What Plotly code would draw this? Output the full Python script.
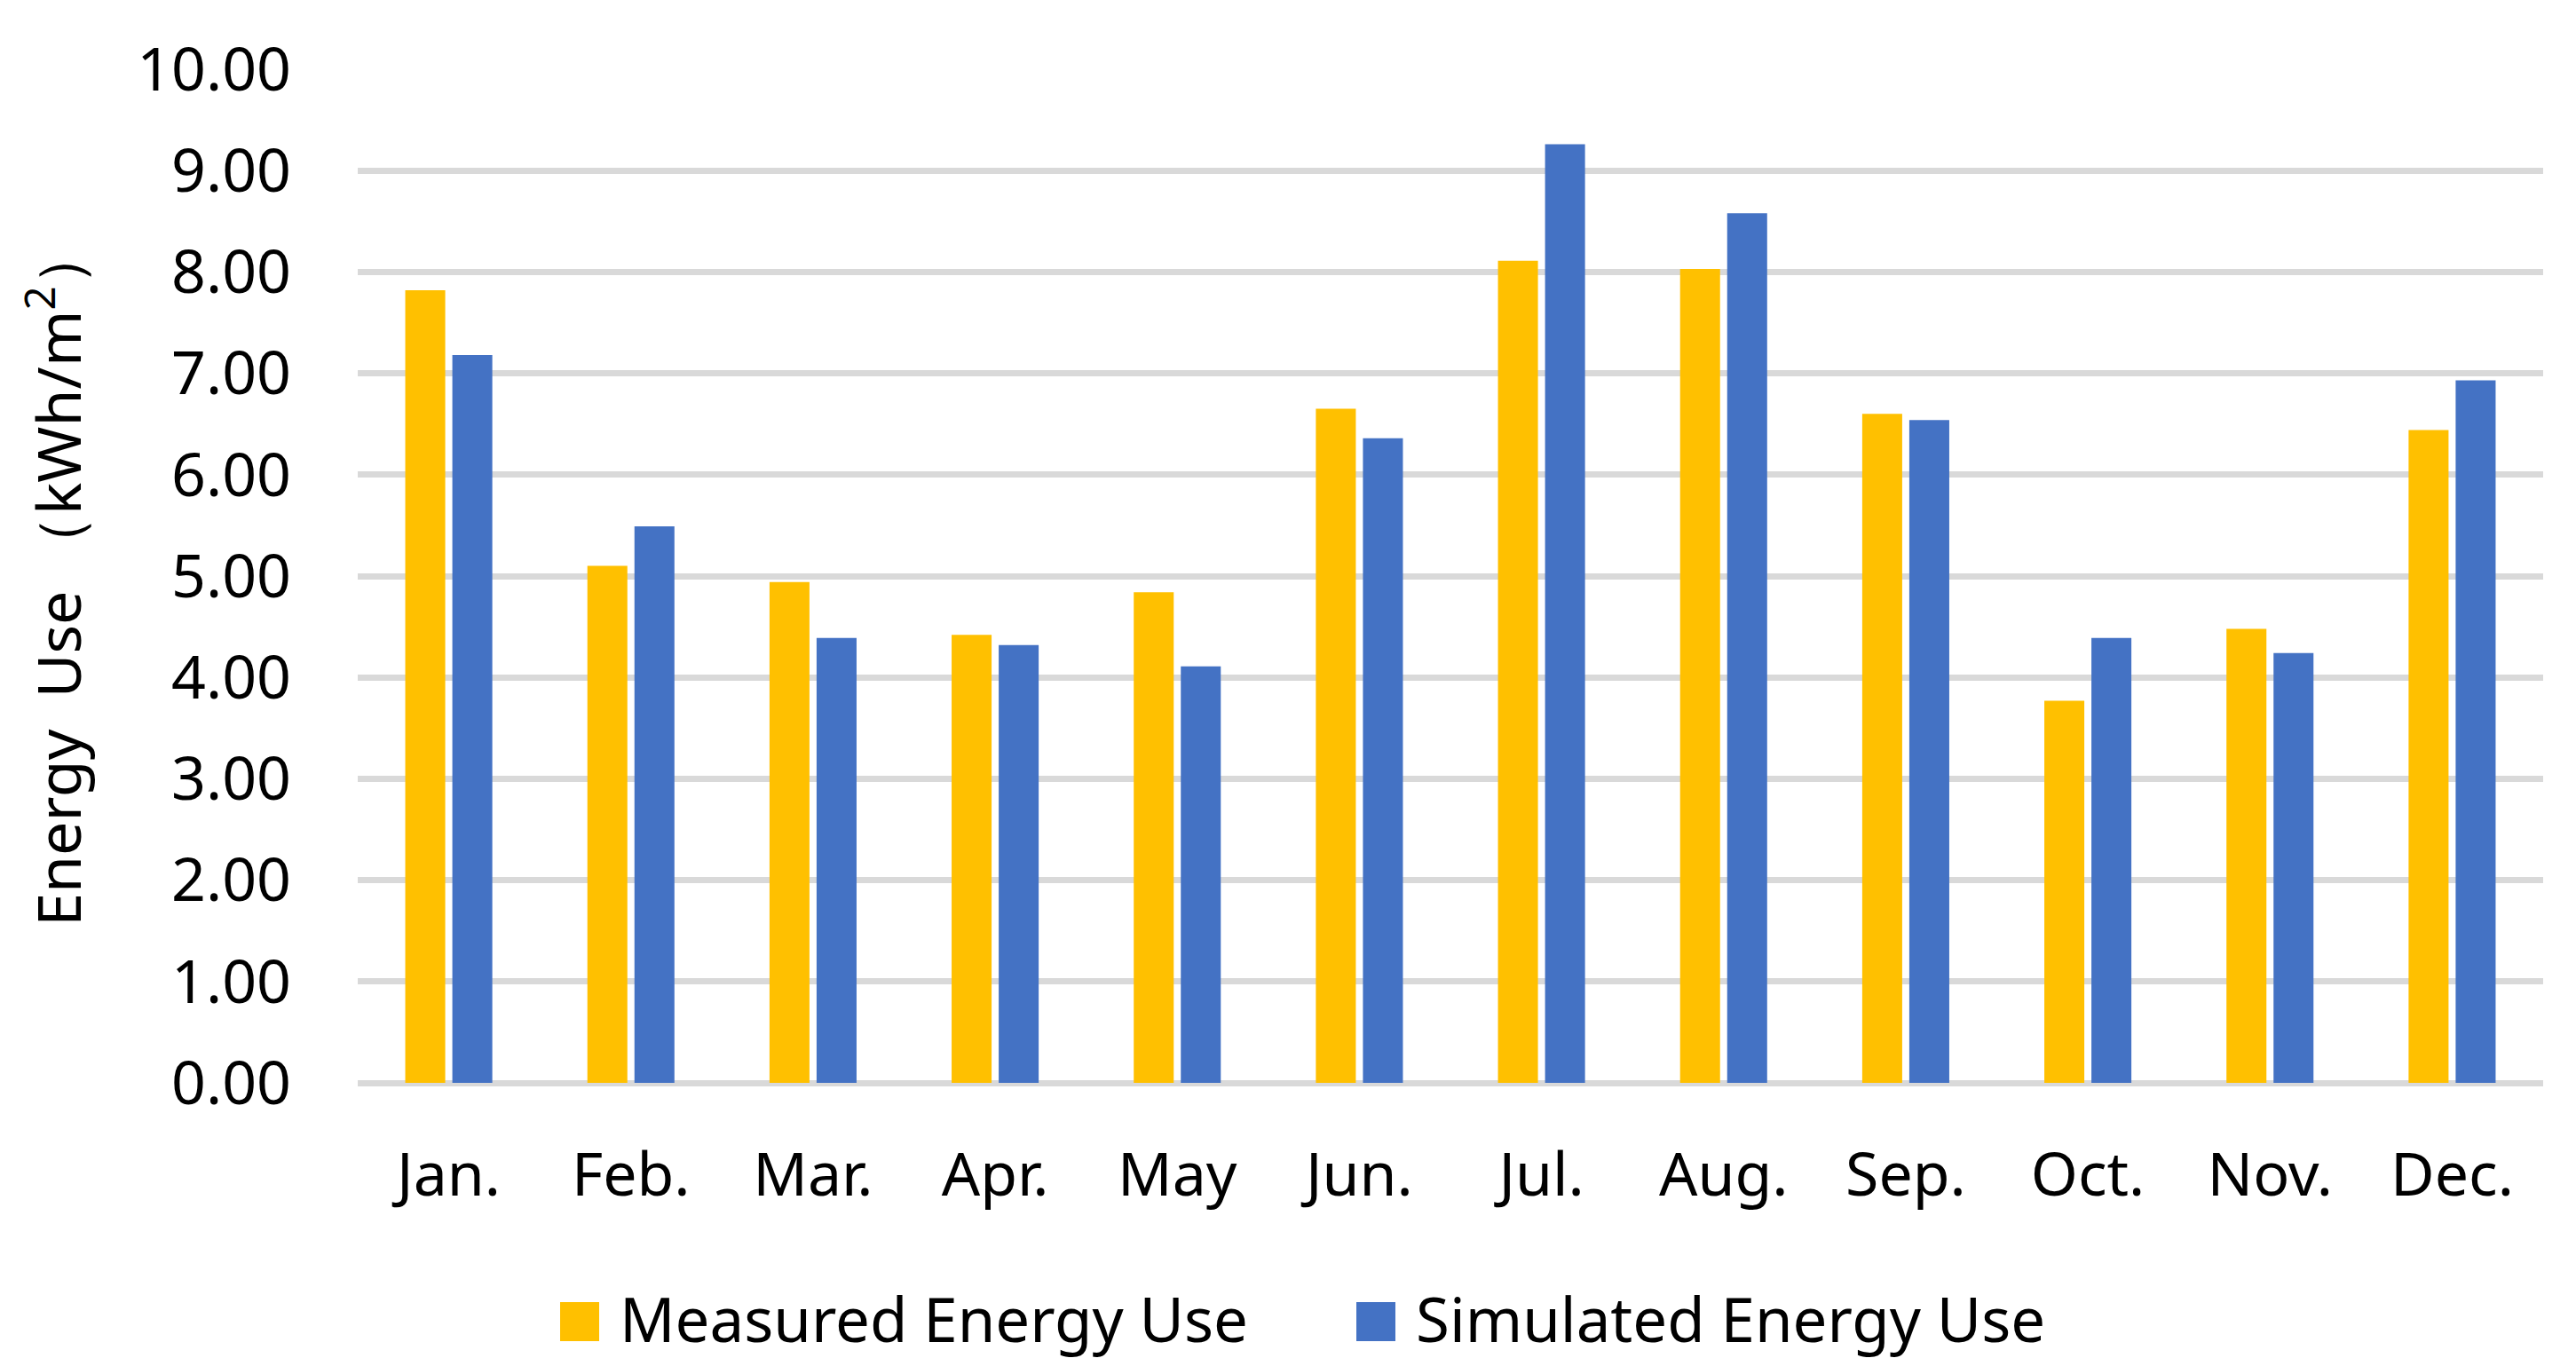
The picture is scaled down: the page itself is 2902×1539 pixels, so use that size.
import plotly.graph_objects as go

months = ["Jan.", "Feb.", "Mar.", "Apr.", "May", "Jun.", "Jul.", "Aug.", "Sep.", "Oct.", "Nov.", "Dec."]
measured = [7.82, 5.10, 4.94, 4.42, 4.84, 6.65, 8.11, 8.03, 6.60, 3.77, 4.48, 6.44]
simulated = [7.18, 5.49, 4.39, 4.32, 4.11, 6.36, 9.26, 8.58, 6.54, 4.39, 4.24, 6.93]
y_ticks = [0, 1, 2, 3, 4, 5, 6, 7, 8, 9, 10]
series_names = ["Measured Energy Use", "Simulated Energy Use"]
series_colors = ["#FFC000", "#4472C4"]

FONT = "Noto Sans, DejaVu Sans, sans-serif"
W, H = 2902, 1539
ML, MR, MT, MB = 395, 45, 70, 327
PW, PH = W - ML - MR, H - MT - MB


def px2x(px):
    return (px - ML) / PW


def px2y(py):
    return (H - MB - py) / PH


fig = go.Figure()
for name, vals, col in zip(series_names, [measured, simulated], series_colors):
    fig.add_trace(go.Bar(x=months, y=vals, name=name, showlegend=False,
                         marker=dict(color=col, line=dict(width=0))))

# custom legend (large square swatches like the reference)
legend_sq_left = [623, 1520]
sq_size = 44
legend_cy = 1481
for name, col, left in zip(series_names, series_colors, legend_sq_left):
    fig.add_shape(type="rect", xref="paper", yref="paper",
                  x0=px2x(left), x1=px2x(left + sq_size),
                  y0=px2y(legend_cy + sq_size / 2), y1=px2y(legend_cy - sq_size / 2),
                  fillcolor=col, line=dict(width=0), layer="above")
    fig.add_annotation(text=name, xref="paper", yref="paper",
                       x=px2x(left + sq_size + 21), y=px2y(legend_cy - 4),
                       xanchor="left", yanchor="middle", showarrow=False,
                       font=dict(size=69, color="#000000", family=FONT))

fig.update_layout(
    width=W, height=H,
    paper_bgcolor="white", plot_bgcolor="white",
    barmode="group", bargap=0.483, bargroupgap=0.151,
    margin=dict(l=ML, r=MR, t=MT, b=MB, autoexpand=False),
    font=dict(family=FONT, size=68, color="#000000"),
    showlegend=False,
    xaxis=dict(showgrid=False, showline=False, zeroline=False,
               ticks="", ticklabelstandoff=58, tickfont=dict(size=68)),
    yaxis=dict(range=[0, 10], tickvals=y_ticks, tickformat=".2f",
               showgrid=True, gridcolor="#D9D9D9", gridwidth=7,
               zeroline=True, zerolinecolor="#D9D9D9", zerolinewidth=7,
               showline=False, ticks="", ticklabelstandoff=74,
               tickfont=dict(size=68),
               title=dict(text="Energy  Use （kWh/m<sup>2</sup>）", standoff=40,
                          font=dict(size=68))),
)

fig.write_html("out.html")
